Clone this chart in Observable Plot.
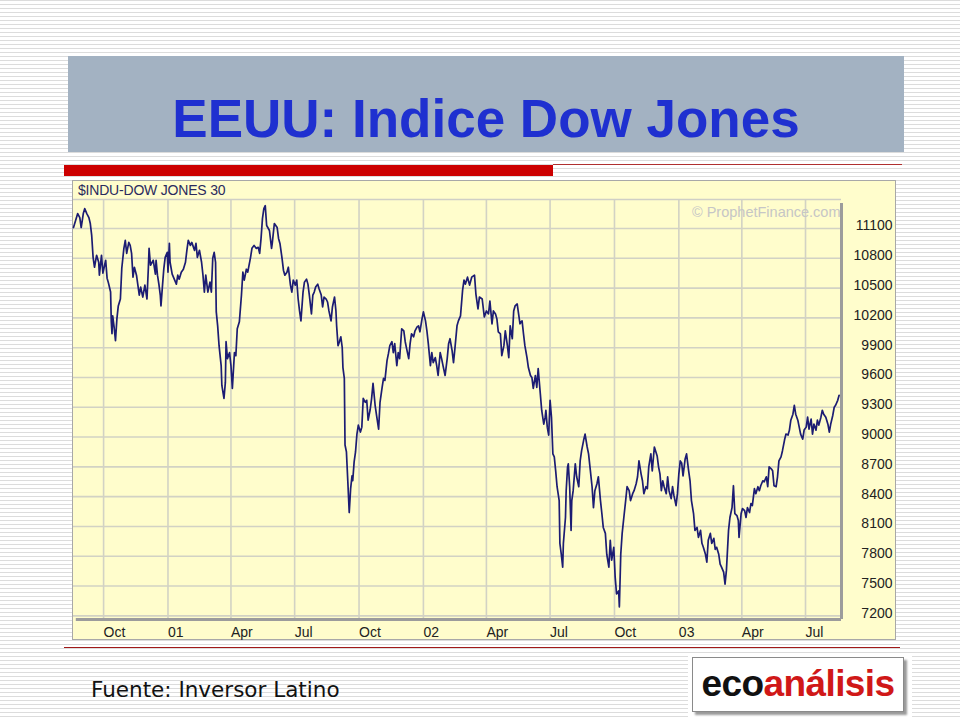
<!DOCTYPE html>
<html>
<head>
<meta charset="utf-8">
<script src="https://cdn.jsdelivr.net/npm/d3@7"></script>
<script src="https://cdn.jsdelivr.net/npm/@observablehq/plot@0.6"></script>
<style>
html, body { margin: 0; padding: 0; }
body {
  width: 960px; height: 720px; position: relative; overflow: hidden;
  background: repeating-linear-gradient(to bottom, #dcdcdc 0px, #dcdcdc 1px, #ffffff 1px, #ffffff 4px);
  font-family: "Liberation Sans", Arial, sans-serif;
}
#titlebox { position: absolute; left: 68px; top: 56px; width: 836px; height: 96px; background: #a3b2c2; }
#title { position: absolute; left: 0; top: 36px; width: 100%; text-align: center;
  font: bold 53px/53px "Liberation Sans", Arial, sans-serif; color: #1f30d0; white-space: nowrap; }
#redbar { position: absolute; left: 64px; top: 165px; width: 489px; height: 11px; background: #cc0000; }
#thin1 { position: absolute; left: 553px; top: 164px; width: 349px; height: 1px; background: #b03030; }
#thin2 { position: absolute; left: 64px; top: 647px; width: 836px; height: 1px; background: #a01818; }
#panel { position: absolute; left: 72px; top: 180px; width: 824px; height: 460px; background: #fffdcc;
  box-shadow: inset 0 0 0 1px #a8a8a8; }
#panel svg { position: absolute; left: 0; top: 0; }
#caption { position: absolute; left: 6px; top: 3px; font: 14px/14px "Liberation Sans", Arial, sans-serif;
  color: #2b2b5e; letter-spacing: -0.2px; white-space: nowrap; }
#fuente { position: absolute; left: 91px; top: 679px; font: 21.5px/21px "DejaVu Sans", Verdana, sans-serif; color: #111; white-space: nowrap; }
#logobg { position: absolute; left: 688px; top: 653px; width: 224px; height: 67px; background: #fff; }
#logo { position: absolute; left: 692px; top: 657px; width: 212px; height: 55px; background: #fff;
  border: 1px solid #8a8a8a; box-shadow: 3px 3px 2px #9a9a9a; box-sizing: border-box; }
#logotext { position: absolute; left: 0; top: 7px; width: 100%; text-align: center;
  font: bold 37px/37px "Liberation Sans", Arial, sans-serif; letter-spacing: -0.6px; white-space: nowrap; }
#logotext .a { color: #111; }
#logotext .b { color: #d01818; }
</style>
</head>
<body>
<div id="titlebox"><div id="title">EEUU: Indice Dow Jones</div></div>
<div id="thin1"></div>
<div id="redbar"></div>
<div id="panel"><div id="caption">$INDU-DOW JONES 30</div></div>
<div id="thin2"></div>
<div id="fuente">Fuente: Inversor Latino</div>
<div id="logobg"></div>
<div id="logo"><div id="logotext"><span class="a">eco</span><span class="b">análisis</span></div></div>

<script>
// ---- data (Dow Jones Industrial Average, approx. closes) ----
const dates2000 = ["08-19","08-22","08-25","08-28","08-30","09-02","09-04","09-07","09-10","09-12",
"09-14","09-16","09-18","09-21","09-24","09-25","09-28","09-30","10-04","10-06",
"10-08","10-11","10-12","10-13","10-14","10-16","10-18","10-20","10-22","10-25",
"10-27","10-30","11-01","11-03","11-06","11-08","11-10","11-12","11-14","11-17",
"11-19","11-21","11-23","11-26","11-29","12-02","12-04","12-05","12-07","12-11",
"12-14","12-15","12-17","12-19","12-21","12-22","12-24","12-26","12-28","12-31"];
const close2000 = [11110,11180,11250,11210,11110,11250,11300,11250,11210,11150,
11030,10810,10710,10830,10760,10630,10830,10650,10780,10600,
10550,10460,10160,10040,10220,10110,9970,10190,10320,10390,
10700,10900,10980,10850,10960,10930,10850,10610,10710,10630,
10530,10430,10510,10410,10530,10390,10710,10900,10730,10780,
10640,10780,10630,10540,10430,10320,10510,10690,10810,10860];

const dates2001 = ["01-01","01-03","01-04","01-07","01-10","01-13","01-15","01-17","01-20","01-23",
"01-26","01-28","01-30","02-02","02-04","02-08","02-10","02-12","02-15","02-18",
"02-20","02-22","02-24","02-27","03-02","03-04","03-06","03-08","03-10","03-11",
"03-13","03-15","03-18","03-19","03-22","03-24","03-25","03-27","03-30","04-01",
"04-03","04-06","04-08","04-10","04-13","04-16","04-18","04-20","04-23","04-25",
"04-29","05-01","05-04","05-07","05-10","05-12","05-14","05-16","05-18","05-20",
"05-22","05-26","05-29","05-30","06-02","06-06","06-08","06-10","06-13","06-15",
"06-17","06-20","06-22","06-25","06-27","06-29","07-02","07-04","07-06","07-08",
"07-10","07-13","07-15","07-18","07-20","07-22","07-25","07-27","07-29","07-31",
"08-03","08-05","08-08","08-10","08-12","08-15","08-17","08-19","08-22","08-24",
"08-27","08-29","08-30","09-01","09-03","09-05","09-07","09-08","09-10","09-11",
"09-13","09-15","09-17","09-19","09-21","09-22","09-24","09-26","09-28","09-30",
"10-03","10-05","10-07","10-10","10-12","10-14","10-17","10-19","10-21","10-24",
"10-26","10-29","10-31","11-03","11-05","11-07","11-10","11-12","11-14","11-17",
"11-19","11-21","11-24","11-26","11-28","12-01","12-04","12-06","12-08","12-11",
"12-13","12-15","12-18","12-20","12-23","12-25","12-27","12-30"];
const close2001 = [10660,10950,10760,10640,10590,10540,10630,10590,10660,10690,
10760,10880,10980,10930,10960,10880,10950,10810,10880,10760,
10630,10460,10630,10460,10560,10460,10800,10860,10760,10260,
10120,9920,9720,9520,9390,9550,9960,9790,9850,9720,
9490,9850,9820,10090,10160,10430,10660,10580,10690,10660,
10810,10900,10930,10900,10910,10850,11000,11200,11300,11330,
11130,11080,10900,10950,11150,11110,11000,10950,10800,10680,
10630,10660,10710,10530,10460,10580,10530,10580,10390,10270,
10170,10460,10560,10590,10540,10430,10240,10430,10460,10510,
10540,10490,10430,10310,10410,10390,10360,10270,10170,10310,
10410,10270,10120,9920,9960,10010,9900,9700,9590,8920,
8850,8550,8240,8480,8610,8560,8750,8850,9030,9120,
9050,9100,9390,9350,9370,9170,9280,9390,9540,9320,
9220,9080,9350,9500,9590,9570,9770,9840,9920,9960,
9850,9940,9720,9850,9790,10090,10070,9960,9890,9790,
9940,10040,10010,10070,10110,10120,10060,10190];

const dates2002 = ["01-01","01-04","01-06","01-08","01-11","01-13","01-15","01-18","01-20","01-22",
"01-25","01-27","01-29","02-01","02-04","02-06","02-08","02-11","02-13","02-15",
"02-18","02-20","02-23","02-26","02-28","03-02","03-05","03-08","03-11","03-15",
"03-17","03-20","03-22","03-26","03-29","04-01","04-04","04-06","04-09","04-11",
"04-14","04-16","04-18","04-21","04-23","04-26","04-28","05-01","05-03","05-05",
"05-08","05-10","05-12","05-15","05-17","05-19","05-22","05-24","05-26","05-29",
"05-31","06-03","06-05","06-07","06-10","06-12","06-14","06-17","06-19","06-22",
"06-24","06-25","06-27","06-29","07-01","07-03","07-05","07-07","07-09","07-11",
"07-14","07-15","07-17","07-19","07-20","07-23","07-24","07-26","07-27","07-29",
"07-31","08-01","08-03","08-06","08-08","08-11","08-13","08-15","08-18","08-20",
"08-23","08-25","08-27","08-30","09-01","09-03","09-06","09-08","09-11","09-13",
"09-15","09-18","09-20","09-23","09-25","09-27","09-30","10-02","10-04","10-07",
"10-08","10-10","10-12","10-15","10-17","10-19","10-22","10-24","10-27","10-29",
"11-01","11-03","11-05","11-08","11-10","11-12","11-15","11-17","11-19","11-22",
"11-24","11-27","12-01","12-03","12-05","12-07","12-09","12-11","12-14","12-16",
"12-18","12-21","12-23","12-25","12-28","12-30"];
const close2002 = [10260,10170,10070,9940,9720,9850,9750,9800,9720,9620,
9850,9790,9720,9620,9790,9940,9990,9870,9750,9890,
10120,10170,10220,10480,10580,10540,10610,10530,10610,10630,
10440,10290,10410,10390,10210,10270,10240,10370,10140,10270,
10240,10190,10060,10040,9820,9920,10070,9920,9800,10120,
9990,10270,10320,10340,10240,10140,10170,10040,9920,9800,
9700,9620,9600,9490,9620,9500,9690,9440,9270,9130,
9200,9270,9100,9020,9370,9200,8830,8800,8660,8500,
8360,7930,7820,7690,7930,8190,8460,8700,8730,8500,
8060,8360,8460,8730,8600,8500,8760,8860,8970,9030,
8900,8830,8700,8500,8290,8460,8530,8600,8360,8230,
8090,8030,7820,7690,7960,7760,7890,7590,7420,7450,
7290,7820,8030,8230,8360,8500,8460,8360,8430,8460,
8530,8600,8760,8630,8560,8430,8500,8480,8700,8830,
8660,8900,8810,8700,8630,8460,8560,8500,8430,8600,
8460,8380,8500,8410,8310,8430];

const dates2003 = ["01-01","01-03","01-05","01-07","01-10","01-12","01-15","01-17","01-19","01-22",
"01-24","01-27","01-29","02-01","02-03","02-05","02-08","02-10","02-12","02-15",
"02-17","02-20","02-22","02-24","02-27","03-01","03-03","03-06","03-08","03-10",
"03-13","03-15","03-18","03-20","03-22","03-25","03-27","03-28","03-31","04-02",
"04-05","04-07","04-09","04-12","04-14","04-16","04-19","04-21","04-24","04-26",
"04-28","05-01","05-03","05-06","05-08","05-10","05-13","05-15","05-17","05-20",
"05-22","05-24","05-27","05-29","06-01","06-03","06-06","06-08","06-10","06-13",
"06-15","06-17","06-20","06-22","06-24","06-27","06-29","07-02","07-04","07-06",
"07-09","07-11","07-13","07-16","07-18","07-20","07-23","07-25","07-27","07-30",
"08-02","08-04","08-06","08-09","08-11","08-13","08-16","08-18"];
const close2003 = [8630,8760,8740,8610,8780,8830,8660,8560,8360,8230,
8060,8090,7990,8060,7930,7890,7820,7740,7960,8030,
7930,7980,7870,7890,7820,7720,7690,7640,7520,7660,
8060,8190,8290,8510,8230,8210,8160,7990,8230,8280,
8260,8190,8290,8240,8330,8310,8480,8430,8500,8460,
8510,8560,8550,8600,8500,8700,8680,8660,8510,8500,
8600,8760,8800,8860,8970,9030,9020,9070,9170,9230,
9320,9230,9170,9100,9030,8980,9070,9100,9200,9080,
9180,9030,9130,9070,9170,9120,9200,9270,9230,9200,
9130,9050,9130,9220,9300,9320,9370,9420];

// axis ticks
const xTickDates = ["2000-10-01","2001-01-01","2001-04-01","2001-07-01","2001-10-01","2002-01-01",
  "2002-04-01","2002-07-01","2002-10-01","2003-01-01","2003-04-01","2003-07-01"];
const xTickLabels = ["Oct","01","Apr","Jul","Oct","02","Apr","Jul","Oct","03","Apr","Jul"];
const yTicks = [7200,7500,7800,8100,8400,8700,9000,9300,9600,9900,10200,10500,10800,11100];

// ---- build table ----
const rows = [];
[[2000, dates2000, close2000], [2001, dates2001, close2001],
 [2002, dates2002, close2002], [2003, dates2003, close2003]].forEach(([yr, ds, vs]) => {
  ds.forEach((d, i) => rows.push({date: new Date(`${yr}-${d}T00:00:00Z`), value: vs[i]}));
});
const xTicks = xTickDates.map(s => new Date(s + "T00:00:00Z"));
const labelOf = new Map(xTicks.map((d, i) => [d.getTime(), xTickLabels[i]]));

const xStart = new Date("2000-08-19T00:00:00Z");
const xEnd = new Date("2003-08-21T10:00:00Z");
const yMin = 7163, yMax = 11392;

const chart = Plot.plot({
  width: 824,
  height: 460,
  marginLeft: 1,
  marginRight: 55,
  marginTop: 19,
  marginBottom: 21,
  style: {background: "transparent", fontFamily: "'Liberation Sans', Arial, sans-serif", fontSize: "14px", color: "#222"},
  x: {type: "utc", domain: [xStart, xEnd], label: null},
  y: {domain: [yMin, yMax], label: null},
  marks: [
    Plot.gridX({ticks: xTicks, stroke: "#d2d2c4", strokeOpacity: 1, strokeWidth: 1.6}),
    Plot.gridY({ticks: yTicks, stroke: "#d2d2c4", strokeOpacity: 1, strokeWidth: 1.6}),
    Plot.ruleY([yMax], {stroke: "#cfcfc6", strokeWidth: 1.5}),
    Plot.text(["© ProphetFinance.com"], {frameAnchor: "top-right", dx: -1, dy: 7, fill: "#c6c6c6", fontSize: 14.5, textAnchor: "end"}),
    Plot.line(rows, {x: "date", y: "value", stroke: "#1c1c73", strokeWidth: 1.7}),
    Plot.ruleX([xEnd], {stroke: "#9c9c9c", strokeWidth: 3, y1: yMax - 40, y2: yMin}),
    Plot.ruleY([yMin], {stroke: "#9c9c9c", strokeWidth: 3, x1: d3.utcDay.offset(xStart, 4), x2: xEnd}),
    Plot.axisX({ticks: xTicks, tickFormat: d => labelOf.get(d.getTime()), tickSize: 0, tickPadding: 8,
      textAnchor: "start", fontSize: 14, fill: "#222", label: null}),
    Plot.axisY({anchor: "right", ticks: yTicks, tickFormat: d => String(d), tickSize: 0, tickPadding: 0,
      textAnchor: "end", dx: 51, dy: -2.5, fontSize: 14, fill: "#222", label: null})
  ]
});
document.getElementById("panel").appendChild(chart);
</script>
</body>
</html>
